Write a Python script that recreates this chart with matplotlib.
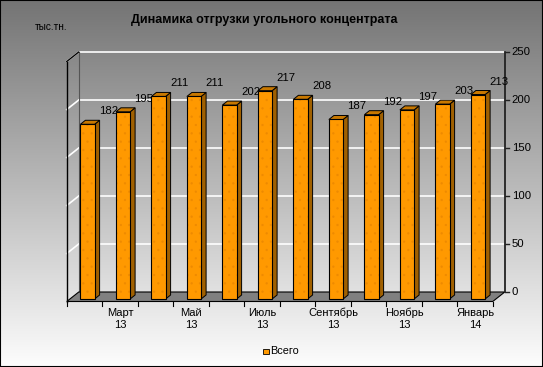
import numpy as np
import matplotlib
matplotlib.use("Agg")
import matplotlib.pyplot as plt
from matplotlib.patches import Polygon, Rectangle

plt.rcParams['font.family'] = ['Liberation Sans', 'DejaVu Sans']

# Data
months = ["Февраль\n13", "Март\n13", "Апрель\n13", "Май\n13", "Июнь\n13", "Июль\n13",
          "Август\n13", "Сентябрь\n13", "Октябрь\n13", "Ноябрь\n13", "Декабрь\n13", "Январь\n14"]
values = [182, 195, 211, 211, 202, 217, 208, 187, 192, 197, 203, 213]
y_ticks = [0, 50, 100, 150, 200, 250]
title = "Динамика отгрузки угольного концентрата"
unit = "тыс.тн."
series_name = "Всего"

# Figure in pixels
W, H = 543, 367
fig = plt.figure(figsize=(W / 100, H / 100), dpi=100)
ax = fig.add_axes([0, 0, 1, 1])

# px per data unit and placement of the bar plane
kx, ky = 35.5, 0.96
x0_px, y0_px = 87.5, H - 299
ax.set_xlim(-x0_px / kx, (W - x0_px) / kx)
ax.set_ylim(-y0_px / ky, (H - y0_px) / ky)
ax.axis('off')

def dx(p):
    return p / kx

def dy(p):
    return p / ky

xs = np.arange(len(values))
xmin, xmax = -0.5, len(values) - 0.5
ymax = y_ticks[-1]

# background gradient
grad = np.linspace(0, 1, 256).reshape(-1, 1)
cmap = matplotlib.colors.LinearSegmentedColormap.from_list("bg", ["#fdfdfd", "#747474"])
ax.imshow(grad, cmap=cmap, aspect='auto', origin='lower',
          extent=(*ax.get_xlim(), *ax.get_ylim()), zorder=0)

# depth offsets (relative to bar front plane)
fx, fy = dx(-3), dy(-2.5)      # front edge
bx, by = dx(9), dy(7)          # back wall
cx, cy = dx(5), dy(4)          # bar depth

# back wall grid lines
for t in y_ticks[1:]:
    ax.plot([xmin + bx, xmax + bx], [t + by, t + by], color='white', lw=1.2, zorder=1)
    ax.plot([xmin + fx, xmin + bx], [t + fy, t + by], color='white', lw=1.2, zorder=1)

# left wall outline
ax.plot([xmin + bx, xmin + bx], [by, ymax + by], color='#555555', lw=0.8, zorder=1)
ax.plot([xmin + fx, xmin + fx], [fy, ymax + fy], color='black', lw=1, zorder=2)
ax.plot([xmin + fx, xmin + bx], [ymax + fy, ymax + by], color='black', lw=1, zorder=2)

# floor
floor = Polygon([(xmin + fx, fy), (xmax + fx, fy), (xmax + bx, by), (xmin + bx, by)],
                closed=True, facecolor='#808080', edgecolor='black', lw=0.8, zorder=2)
ax.add_patch(floor)

# right value axis at back
ax.plot([xmax + bx, xmax + bx], [by, ymax + by], color='#222222', lw=1.3, zorder=2)
for t in y_ticks:
    ax.plot([xmax + bx, xmax + bx + dx(4)], [t + by, t + by], color='#222222', lw=1, zorder=2)
    ax.text(xmax + bx + dx(7), t + by, str(t), ha='left', va='center', fontsize=8.2, zorder=5)

# category ticks on front edge
for b in np.arange(xmin, xmax + 0.01, 1.0):
    ax.plot([b + fx, b + fx], [fy, fy - dy(4)], color='black', lw=0.8, zorder=2)
for i in range(1, len(months), 2):
    ax.text(xs[i] + fx, fy - dy(6), months[i], ha='center', va='top',
            fontsize=8.0, linespacing=1.25, zorder=5)

# data labels (behind bars)
for x, v in zip(xs, values):
    ax.text(x + dx(21), v + dy(13), str(v), ha='center', va='center', fontsize=8.2, zorder=3)

# bars: side and top faces, then front
w = 0.4
for x, v in zip(xs, values):
    side = Polygon([(x + w / 2, 0), (x + w / 2 + cx, cy), (x + w / 2 + cx, v + cy), (x + w / 2, v)],
                   closed=True, facecolor='#A06000', edgecolor='black', lw=0.7, zorder=4)
    top = Polygon([(x - w / 2, v), (x + w / 2, v), (x + w / 2 + cx, v + cy), (x - w / 2 + cx, v + cy)],
                  closed=True, facecolor='#C87800', edgecolor='black', lw=0.7, zorder=4)
    ax.add_patch(side)
    ax.add_patch(top)

plt.rcParams['hatch.linewidth'] = 0.4
ax.bar(xs, values, width=w, color='#FF9900', edgecolor='#EE8A00', lw=0, hatch='..', zorder=4.1)
bars = ax.bar(xs, values, width=w, facecolor='none', edgecolor='black', lw=0.8, zorder=4.2)

# legend
ax.add_patch(Rectangle((dx(263 - x0_px), dy(H - 354 - y0_px)), dx(5.5), dy(5.5),
                       facecolor='#FF9900', edgecolor='black', lw=0.6, zorder=5))
ax.text(dx(270 - x0_px), dy(H - 351.5 - y0_px), series_name, ha='left', va='center',
        fontsize=7.8, zorder=5)

# titles
fig.text(264 / W, 1 - 20 / H, title, ha='center', va='center', fontsize=9.0, fontweight='bold')
fig.text(35 / W, 1 - 27 / H, unit, ha='left', va='center', fontsize=7.2)

# border
fig.add_artist(Rectangle((0, 0), 1, 1, transform=fig.transFigure, fill=False,
                         edgecolor='black', lw=1.5))

fig.savefig("out.png", dpi=100)
